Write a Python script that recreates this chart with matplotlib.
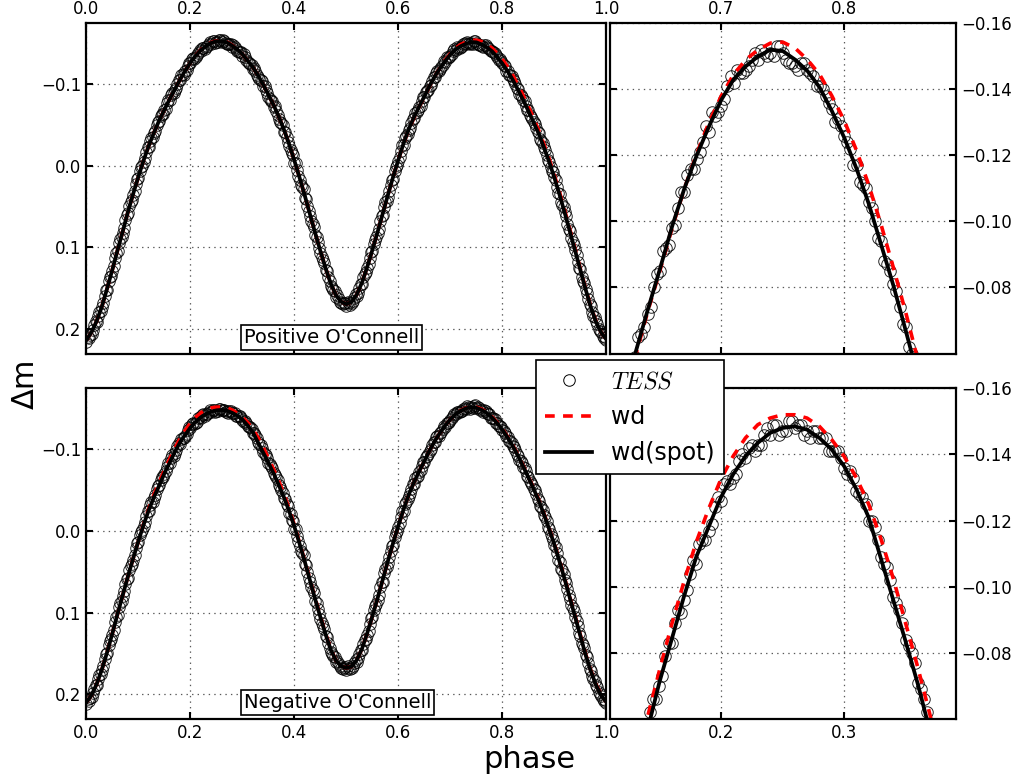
import numpy as np
import matplotlib
matplotlib.use('Agg')
import matplotlib.pyplot as plt

plt.rcParams['mathtext.fontset'] = 'cm'
plt.rcParams['lines.scale_dashes'] = False

# phase grids (model curves every 0.01, TESS points every 0.005 in two interleaved runs)
phase_model = np.linspace(0.0, 1.0, 101)
phase_obs_a = np.linspace(0.0, 1.0, 201)
phase_obs_b = np.linspace(0.0025, 0.9975, 200)

# ---- upper panels: positive O'Connell ----
tess_pos_a = [
    0.216, 0.211, 0.206, 0.196, 0.192, 0.180, 0.174, 0.160, 0.152, 0.137,
    0.129, 0.113, 0.105, 0.090, 0.082, 0.066, 0.058, 0.044, 0.036, 0.022,
    0.015, 0.002, -0.005, -0.017, -0.023, -0.034, -0.040, -0.050, -0.055, -0.064,
    -0.068, -0.077, -0.081, -0.089, -0.093, -0.101, -0.105, -0.113, -0.116, -0.123,
    -0.126, -0.132, -0.134, -0.139, -0.141, -0.145, -0.146, -0.150, -0.150, -0.153,
    -0.152, -0.154, -0.152, -0.153, -0.150, -0.150, -0.146, -0.146, -0.141, -0.140,
    -0.135, -0.133, -0.127, -0.125, -0.119, -0.116, -0.109, -0.105, -0.098, -0.093,
    -0.085, -0.080, -0.072, -0.067, -0.058, -0.052, -0.042, -0.035, -0.024, -0.016,
    -0.004, 0.005, 0.017, 0.026, 0.039, 0.049, 0.062, 0.071, 0.085, 0.094,
    0.107, 0.116, 0.128, 0.136, 0.147, 0.152, 0.161, 0.163, 0.169, 0.169,
    0.172, 0.169, 0.169, 0.162, 0.160, 0.150, 0.145, 0.133, 0.126, 0.113,
    0.105, 0.091, 0.083, 0.068, 0.061, 0.045, 0.038, 0.023, 0.016, 0.002,
    -0.006, -0.018, -0.026, -0.036, -0.044, -0.053, -0.059, -0.066, -0.072, -0.080,
    -0.085, -0.092, -0.098, -0.104, -0.109, -0.116, -0.119, -0.124, -0.127, -0.132,
    -0.135, -0.141, -0.142, -0.145, -0.146, -0.149, -0.149, -0.151, -0.151, -0.153,
    -0.151, -0.148, -0.147, -0.148, -0.146, -0.144, -0.141, -0.138, -0.134, -0.131,
    -0.126, -0.122, -0.117, -0.111, -0.106, -0.100, -0.094, -0.087, -0.081, -0.074,
    -0.068, -0.060, -0.054, -0.046, -0.040, -0.030, -0.023, -0.013, -0.005, 0.006,
    0.014, 0.026, 0.035, 0.048, 0.057, 0.071, 0.080, 0.094, 0.104, 0.118,
    0.127, 0.142, 0.151, 0.164, 0.172, 0.184, 0.190, 0.200, 0.204, 0.211,
    0.214]

tess_pos_b = [
    0.210, 0.208, 0.202, 0.191, 0.184, 0.178, 0.168, 0.153, 0.142, 0.135,
    0.123, 0.107, 0.095, 0.088, 0.076, 0.060, 0.049, 0.042, 0.031, 0.016,
    0.006, 0.000, -0.010, -0.023, -0.031, -0.035, -0.043, -0.054, -0.061, -0.064,
    -0.070, -0.081, -0.087, -0.089, -0.095, -0.105, -0.111, -0.112, -0.118, -0.126,
    -0.131, -0.131, -0.136, -0.142, -0.145, -0.144, -0.147, -0.152, -0.153, -0.151,
    -0.152, -0.155, -0.154, -0.151, -0.149, -0.150, -0.148, -0.143, -0.140, -0.140,
    -0.137, -0.130, -0.126, -0.124, -0.120, -0.112, -0.106, -0.104, -0.098, -0.089,
    -0.082, -0.080, -0.073, -0.062, -0.054, -0.050, -0.041, -0.029, -0.019, -0.013,
    -0.003, 0.012, 0.023, 0.029, 0.041, 0.056, 0.068, 0.075, 0.087, 0.101,
    0.112, 0.119, 0.129, 0.142, 0.150, 0.154, 0.159, 0.167, 0.170, 0.168,
    0.167, 0.171, 0.166, 0.158, 0.156, 0.145, 0.137, 0.131, 0.121, 0.106,
    0.096, 0.088, 0.077, 0.062, 0.050, 0.043, 0.031, 0.017, 0.006, -0.001,
    -0.011, -0.025, -0.034, -0.039, -0.047, -0.058, -0.065, -0.068, -0.074, -0.084,
    -0.091, -0.093, -0.099, -0.109, -0.114, -0.116, -0.121, -0.129, -0.133, -0.133,
    -0.137, -0.144, -0.146, -0.145, -0.147, -0.151, -0.152, -0.150, -0.150, -0.153,
    -0.149, -0.148, -0.146, -0.148, -0.145, -0.141, -0.140, -0.136, -0.130, -0.129,
    -0.124, -0.117, -0.112, -0.110, -0.104, -0.095, -0.088, -0.085, -0.079, -0.069,
    -0.062, -0.058, -0.051, -0.041, -0.033, -0.028, -0.019, -0.007, 0.002, 0.008,
    0.018, 0.033, 0.044, 0.051, 0.062, 0.078, 0.089, 0.097, 0.109, 0.125,
    0.136, 0.144, 0.156, 0.170, 0.180, 0.186, 0.194, 0.203, 0.209, 0.210]

wd_pos = [
    0.214, 0.204, 0.190, 0.172, 0.150, 0.127, 0.103, 0.080, 0.056, 0.034,
    0.013, -0.007, -0.025, -0.041, -0.056, -0.069, -0.082, -0.094, -0.106, -0.117,
    -0.127, -0.1355, -0.1425, -0.148, -0.1515, -0.1535, -0.1535, -0.152, -0.148, -0.143,
    -0.137, -0.129, -0.121, -0.111, -0.0995, -0.087, -0.0745, -0.060, -0.044, -0.026,
    -0.006, 0.015, 0.037, 0.060, 0.083, 0.105, 0.126, 0.145, 0.159, 0.167,
    0.170, 0.167, 0.158, 0.143, 0.124, 0.103, 0.081, 0.058, 0.035, 0.013,
    -0.008, -0.0275, -0.045, -0.059, -0.0725, -0.085, -0.098, -0.110, -0.1205, -0.130,
    -0.138, -0.1445, -0.149, -0.152, -0.154, -0.1543, -0.1525, -0.149, -0.1445, -0.138,
    -0.1305, -0.1215, -0.111, -0.099, -0.086, -0.0725, -0.058, -0.043, -0.026, -0.008,
    0.012, 0.033, 0.0555, 0.079, 0.103, 0.127, 0.151, 0.173, 0.191, 0.205,
    0.2135]

spot_pos = [
    0.214, 0.204, 0.190, 0.172, 0.150, 0.127, 0.103, 0.080, 0.056, 0.034,
    0.013, -0.007, -0.025, -0.041, -0.056, -0.069, -0.082, -0.094, -0.106, -0.117,
    -0.127, -0.135, -0.142, -0.147, -0.151, -0.153, -0.153, -0.1515, -0.1475, -0.143,
    -0.137, -0.129, -0.121, -0.111, -0.0995, -0.087, -0.0745, -0.060, -0.044, -0.026,
    -0.006, 0.015, 0.037, 0.060, 0.083, 0.105, 0.126, 0.145, 0.159, 0.167,
    0.170, 0.167, 0.158, 0.143, 0.124, 0.103, 0.081, 0.058, 0.035, 0.013,
    -0.008, -0.028, -0.0455, -0.060, -0.073, -0.0855, -0.0985, -0.110, -0.120, -0.1288,
    -0.1368, -0.143, -0.147, -0.150, -0.152, -0.1516, -0.149, -0.1456, -0.1406, -0.1334,
    -0.1254, -0.116, -0.1053, -0.093, -0.0806, -0.067, -0.053, -0.039, -0.022, -0.0045,
    0.015, 0.036, 0.0585, 0.0815, 0.105, 0.1285, 0.152, 0.174, 0.192, 0.205,
    0.2135]

# ---- lower panels: negative O'Connell ----
tess_neg_a = [
    0.212, 0.208, 0.203, 0.194, 0.189, 0.177, 0.171, 0.157, 0.150, 0.135,
    0.127, 0.111, 0.103, 0.088, 0.080, 0.065, 0.057, 0.043, 0.035, 0.021,
    0.014, 0.001, -0.006, -0.018, -0.024, -0.036, -0.041, -0.052, -0.056, -0.066,
    -0.070, -0.079, -0.083, -0.093, -0.096, -0.104, -0.107, -0.114, -0.117, -0.124,
    -0.126, -0.132, -0.133, -0.138, -0.139, -0.143, -0.143, -0.146, -0.146, -0.149,
    -0.147, -0.150, -0.148, -0.149, -0.147, -0.147, -0.145, -0.145, -0.141, -0.141,
    -0.136, -0.135, -0.129, -0.127, -0.120, -0.118, -0.109, -0.106, -0.097, -0.093,
    -0.084, -0.080, -0.071, -0.066, -0.056, -0.050, -0.040, -0.033, -0.022, -0.014,
    -0.003, 0.006, 0.018, 0.027, 0.040, 0.050, 0.063, 0.072, 0.086, 0.095,
    0.108, 0.117, 0.129, 0.137, 0.148, 0.153, 0.161, 0.163, 0.168, 0.168,
    0.170, 0.168, 0.168, 0.162, 0.160, 0.151, 0.146, 0.134, 0.127, 0.114,
    0.106, 0.092, 0.084, 0.069, 0.062, 0.046, 0.039, 0.024, 0.017, 0.003,
    -0.005, -0.017, -0.025, -0.035, -0.043, -0.052, -0.058, -0.066, -0.072, -0.080,
    -0.085, -0.092, -0.098, -0.105, -0.109, -0.116, -0.120, -0.125, -0.128, -0.133,
    -0.136, -0.141, -0.143, -0.146, -0.147, -0.150, -0.150, -0.152, -0.152, -0.153,
    -0.151, -0.151, -0.149, -0.148, -0.145, -0.143, -0.139, -0.137, -0.132, -0.129,
    -0.124, -0.120, -0.115, -0.110, -0.104, -0.099, -0.092, -0.086, -0.079, -0.073,
    -0.066, -0.059, -0.052, -0.045, -0.037, -0.029, -0.020, -0.012, -0.002, 0.007,
    0.017, 0.027, 0.038, 0.048, 0.060, 0.071, 0.083, 0.094, 0.106, 0.117,
    0.129, 0.140, 0.152, 0.162, 0.172, 0.181, 0.189, 0.197, 0.202, 0.208,
    0.211]

tess_neg_b = [
    0.206, 0.205, 0.199, 0.189, 0.181, 0.175, 0.166, 0.151, 0.140, 0.133,
    0.121, 0.105, 0.093, 0.086, 0.074, 0.059, 0.048, 0.040, 0.030, 0.015,
    0.005, -0.001, -0.011, -0.024, -0.032, -0.036, -0.044, -0.055, -0.062, -0.066,
    -0.073, -0.083, -0.089, -0.092, -0.099, -0.108, -0.113, -0.114, -0.119, -0.127,
    -0.131, -0.131, -0.134, -0.140, -0.142, -0.141, -0.143, -0.148, -0.149, -0.146,
    -0.147, -0.150, -0.149, -0.146, -0.145, -0.147, -0.145, -0.141, -0.141, -0.139,
    -0.134, -0.133, -0.128, -0.125, -0.120, -0.114, -0.107, -0.102, -0.095, -0.089,
    -0.082, -0.077, -0.069, -0.062, -0.054, -0.047, -0.039, -0.031, -0.021, -0.012,
    -0.002, 0.012, 0.024, 0.030, 0.042, 0.057, 0.069, 0.076, 0.088, 0.102,
    0.113, 0.120, 0.130, 0.143, 0.151, 0.155, 0.159, 0.166, 0.169, 0.167,
    0.166, 0.169, 0.165, 0.158, 0.156, 0.146, 0.138, 0.132, 0.122, 0.107,
    0.097, 0.089, 0.078, 0.063, 0.051, 0.044, 0.032, 0.018, 0.007, 0.000,
    -0.010, -0.024, -0.033, -0.039, -0.047, -0.058, -0.065, -0.068, -0.075, -0.085,
    -0.091, -0.094, -0.100, -0.109, -0.115, -0.117, -0.122, -0.129, -0.133, -0.134,
    -0.138, -0.144, -0.146, -0.146, -0.147, -0.151, -0.153, -0.150, -0.151, -0.154,
    -0.152, -0.148, -0.146, -0.147, -0.144, -0.139, -0.138, -0.133, -0.129, -0.127,
    -0.123, -0.116, -0.111, -0.108, -0.103, -0.094, -0.087, -0.084, -0.077, -0.068,
    -0.061, -0.057, -0.050, -0.039, -0.031, -0.026, -0.017, -0.005, 0.004, 0.011,
    0.020, 0.035, 0.046, 0.053, 0.064, 0.079, 0.091, 0.098, 0.110, 0.125,
    0.137, 0.144, 0.155, 0.169, 0.178, 0.184, 0.191, 0.200, 0.206, 0.207]

wd_neg = [
    0.210, 0.201, 0.187, 0.169, 0.148, 0.125, 0.101, 0.078, 0.055, 0.033,
    0.012, -0.009, -0.028, -0.045, -0.060, -0.0745, -0.0885, -0.1015, -0.1135, -0.1235,
    -0.1325, -0.1395, -0.145, -0.149, -0.151, -0.152, -0.152, -0.151, -0.1485, -0.1445,
    -0.1395, -0.133, -0.125, -0.1145, -0.1025, -0.089, -0.0755, -0.061, -0.045, -0.027,
    -0.007, 0.015, 0.037, 0.060, 0.083, 0.105, 0.126, 0.145, 0.159, 0.166,
    0.168, 0.166, 0.158, 0.144, 0.125, 0.104, 0.082, 0.059, 0.036, 0.014,
    -0.007, -0.027, -0.045, -0.060, -0.0735, -0.086, -0.099, -0.1105, -0.1205, -0.1295,
    -0.137, -0.1435, -0.148, -0.151, -0.1525, -0.1518, -0.1495, -0.1455, -0.140, -0.133,
    -0.125, -0.1155, -0.105, -0.093, -0.080, -0.0665, -0.0525, -0.038, -0.021, -0.003,
    0.016, 0.037, 0.059, 0.082, 0.105, 0.128, 0.151, 0.171, 0.188, 0.201,
    0.210]

spot_neg = [
    0.210, 0.201, 0.187, 0.169, 0.148, 0.125, 0.101, 0.078, 0.055, 0.033,
    0.012, -0.008, -0.026, -0.042, -0.056, -0.071, -0.084, -0.097, -0.109, -0.118,
    -0.127, -0.134, -0.1395, -0.1435, -0.1465, -0.148, -0.1485, -0.1475, -0.145, -0.1415,
    -0.1365, -0.1295, -0.121, -0.1085, -0.096, -0.0835, -0.0705, -0.056, -0.041, -0.024,
    -0.005, 0.016, 0.038, 0.061, 0.084, 0.106, 0.127, 0.146, 0.159, 0.166,
    0.168, 0.166, 0.158, 0.144, 0.125, 0.104, 0.082, 0.059, 0.036, 0.014,
    -0.007, -0.027, -0.045, -0.060, -0.0735, -0.086, -0.099, -0.1105, -0.1205, -0.1295,
    -0.137, -0.1435, -0.1475, -0.1505, -0.152, -0.151, -0.1485, -0.1445, -0.139, -0.132,
    -0.124, -0.1145, -0.104, -0.092, -0.079, -0.0655, -0.0515, -0.037, -0.020, -0.002,
    0.017, 0.038, 0.060, 0.083, 0.106, 0.129, 0.152, 0.172, 0.189, 0.202,
    0.210]

full_ticks_y = [-0.1, 0.0, 0.1, 0.2]
zoom_ticks_y = [-0.16, -0.14, -0.12, -0.10, -0.08]


def draw_curves(ax, tess_a, tess_b, wd, spot):
    ph = np.concatenate([phase_obs_a, phase_obs_b])
    dm = np.concatenate([tess_a, tess_b])
    ax.plot(ph, dm, 'o', ms=8.3, mfc='none', mec='k', mew=0.7, alpha=0.85,
            label='$TESS$')
    ax.plot(phase_model, wd, color='red', lw=2.6, ls=(0, (7, 6)), label='wd')
    ax.plot(phase_model, spot, color='k', lw=2.7, label='wd(spot)')


def style_axis(ax):
    for sp in ax.spines.values():
        sp.set_linewidth(1.6)
    ax.grid(True, color='0.35', ls=(0, (1, 3)), lw=0.9)
    ax.tick_params(direction='in', length=5, width=1.5, labelsize=12,
                   top=True, bottom=True, left=True, right=True)


fig = plt.figure(figsize=(10.21, 7.84), dpi=100)

ax_tl = fig.add_axes([0.0847, 0.5491, 0.5093, 0.4212])
ax_tr = fig.add_axes([0.5975, 0.5491, 0.3389, 0.4212])
ax_bl = fig.add_axes([0.0847, 0.0829, 0.5093, 0.4218])
ax_br = fig.add_axes([0.5975, 0.0829, 0.3389, 0.4218])

draw_curves(ax_tl, tess_pos_a, tess_pos_b, wd_pos, spot_pos)
draw_curves(ax_tr, tess_pos_a, tess_pos_b, wd_pos, spot_pos)
draw_curves(ax_bl, tess_neg_a, tess_neg_b, wd_neg, spot_neg)
draw_curves(ax_br, tess_neg_a, tess_neg_b, wd_neg, spot_neg)

# full phase panels
for ax in (ax_tl, ax_bl):
    style_axis(ax)
    ax.set_xlim(0.0, 1.0)
    ax.set_ylim(0.2305, -0.175)
    ax.set_xticks([0.0, 0.2, 0.4, 0.6, 0.8, 1.0])
    ax.set_yticks(full_ticks_y)

# zoomed maxima
ax_tr.set_xlim(0.6095, 0.891)
ax_br.set_xlim(0.110, 0.391)
for ax in (ax_tr, ax_br):
    style_axis(ax)
    ax.set_ylim(-0.06, -0.16)
    ax.set_yticks(zoom_ticks_y)
    ax.tick_params(labelleft=False, labelright=True)

ax_tr.set_xticks([0.7, 0.8])
ax_br.set_xticks([0.2, 0.3])

# x labels on top for the upper row
for ax in (ax_tl, ax_tr):
    ax.tick_params(labeltop=True, labelbottom=False)

box = dict(boxstyle='square,pad=0.15', fc='white', ec='black', lw=1.2)
ax_tl.text(0.472, 0.048, "Positive O'Connell", transform=ax_tl.transAxes,
           ha='center', va='center', fontsize=14, bbox=box, zorder=5)
ax_bl.text(0.483, 0.051, "Negative O'Connell", transform=ax_bl.transAxes,
           ha='center', va='center', fontsize=14, bbox=box, zorder=5)

handles, labels = ax_tl.get_legend_handles_labels()
leg = fig.legend(handles, labels, loc='center', bbox_to_anchor=(0.617, 0.468),
                 fontsize=17, numpoints=1, handlelength=2.0, fancybox=False,
                 framealpha=1.0, edgecolor='k')
leg.get_frame().set_linewidth(1.2)
for lh in leg.legend_handles:
    lh.set_alpha(1.0)

fig.text(0.0245, 0.511, 'Δm', rotation=90, fontsize=22, ha='center', va='center')
fig.text(0.518, 0.031, 'phase', fontsize=22, ha='center', va='center')

fig.savefig('out.png', dpi=100)
